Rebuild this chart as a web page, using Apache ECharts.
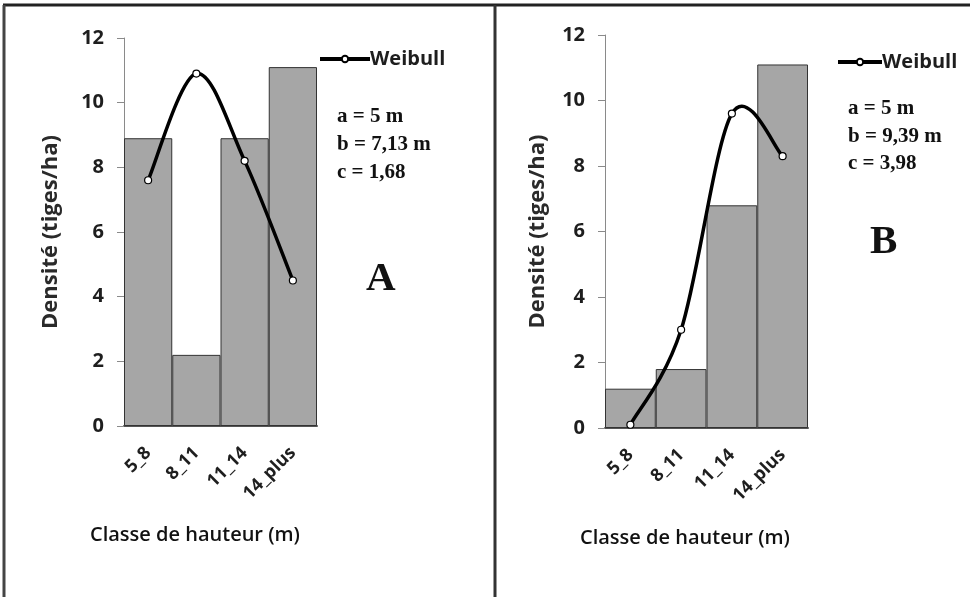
<!DOCTYPE html>
<html>
<head>
<meta charset="utf-8">
<script src="https://cdn.jsdelivr.net/npm/echarts@6/dist/echarts.min.js"></script>
<style>
  html, body { margin: 0; padding: 0; background: #fff; }
  #chart { width: 970px; height: 597px; }
</style>
</head>
<body>
<div id="chart"></div>
<script>
var classes = ['5_8', '8_11', '11_14', '14_plus'];
// panneau A
var densiteA = [8.9, 2.2, 8.9, 11.1];
var weibullA = [7.6, 10.9, 8.2, 4.5];
// panneau B
var densiteB = [1.2, 1.8, 6.8, 11.1];
var weibullB = [0.1, 3.0, 9.6, 8.3];
var yTicks = [0, 2, 4, 6, 8, 10, 12];

var sans = 'Open Sans';
var serif = 'Liberation Serif';

function yAxe(idx, gap) {
    return {
        type: 'value',
        gridIndex: idx,
        min: yTicks[0],
        max: yTicks[yTicks.length - 1],
        interval: 2,
        name: 'Densité (tiges/ha)',
        nameLocation: 'middle',
        nameRotate: 90,
        nameGap: gap,
        nameTextStyle: { fontFamily: sans, fontSize: 22, fontWeight: 'bold', color: '#2a2a2a' },
        axisLine: { show: true, lineStyle: { color: '#8a8a8a', width: 1 } },
        axisTick: { show: true, length: 7, lineStyle: { color: '#8a8a8a' } },
        splitLine: { show: false },
        axisLabel: { margin: 20, fontFamily: sans, fontSize: 20, fontWeight: 'bold', color: '#1e1e1e' }
    };
}

function xAxe(idx) {
    return {
        type: 'category',
        gridIndex: idx,
        data: classes,
        axisLine: { show: true, lineStyle: { color: '#555', width: 2 } },
        axisTick: { show: false },
        axisLabel: { rotate: 45, margin: 24, fontFamily: sans, fontSize: 18, fontWeight: 'bold', color: '#1e1e1e' }
    };
}

function barres(idx, data) {
    return {
        type: 'bar',
        name: 'densite',
        xAxisIndex: idx,
        yAxisIndex: idx,
        data: data,
        barCategoryGap: '0%',
        itemStyle: { color: '#a6a6a6', borderColor: '#333', borderWidth: 1 },
        silent: true
    };
}

// points de la loi de Weibull (marqueurs + légende)
function points(idx, data) {
    return {
        type: 'line',
        name: 'Weibull',
        xAxisIndex: idx,
        yAxisIndex: idx,
        data: data,
        symbol: 'circle',
        symbolSize: 7,
        z: 6,
        lineStyle: { color: '#000', width: 3.5, opacity: 0 },
        itemStyle: { color: '#fff', borderColor: '#000', borderWidth: 1.2 }
    };
}

// courbe lissée façon Excel (Catmull-Rom) passant par les points
function courbe(idx, data) {
    return {
        type: 'custom',
        name: 'courbe' + idx,
        xAxisIndex: idx,
        yAxisIndex: idx,
        data: data.map(function (v, i) { return [i, v]; }),
        z: 5,
        silent: true,
        renderItem: function (params, api) {
            var i = params.dataIndexInside;
            var n = data.length;
            if (i >= n - 1) return;
            var pt = function (k) {
                k = Math.max(0, Math.min(n - 1, k));
                return api.coord([k, data[k]]);
            };
            var p0 = pt(i - 1), p1 = pt(i), p2 = pt(i + 1), p3 = pt(i + 2);
            return {
                type: 'bezierCurve',
                shape: {
                    x1: p1[0], y1: p1[1],
                    x2: p2[0], y2: p2[1],
                    cpx1: p1[0] + (p2[0] - p0[0]) / 6,
                    cpy1: p1[1] + (p2[1] - p0[1]) / 6,
                    cpx2: p2[0] - (p3[0] - p1[0]) / 6,
                    cpy2: p2[1] - (p3[1] - p1[1]) / 6
                },
                style: { stroke: '#000', lineWidth: 3.5, fill: null }
            };
        }
    };
}

function legende(left, top, w) {
    return {
        data: ['Weibull'],
        left: left,
        top: top,
        padding: 0,
        itemWidth: w,
        itemHeight: 8,
        lineStyle: { width: 4, color: '#000', opacity: 1 },
        textStyle: { fontFamily: sans, fontSize: 20, fontWeight: 'bold', color: '#1e1e1e', padding: [0, 0, 0, -5] }
    };
}

function texte(left, top, str, font, size, lh, weight) {
    return {
        type: 'text',
        left: left,
        top: top,
        style: { text: str, font: (weight || 'bold') + ' ' + size + 'px "' + font + '"', fill: '#111', lineHeight: lh }
    };
}

var chart = echarts.init(document.getElementById('chart'));
var option = {
    backgroundColor: '#fff',
    animation: false,
    grid: [
        { left: 124, top: 38, width: 193, height: 388 },
        { left: 605, top: 35, width: 203, height: 393 }
    ],
    xAxis: [xAxe(0), xAxe(1)],
    yAxis: [yAxe(0, 62), yAxe(1, 56)],
    legend: [legende(318, 49, 50), legende(836, 52, 44)],
    series: [
        barres(0, densiteA),
        courbe(0, weibullA),
        points(0, weibullA),
        barres(1, densiteB),
        courbe(1, weibullB),
        points(1, weibullB)
    ],
    graphic: [
        // cadres
        { type: 'line', shape: { x1: 3, y1: 5, x2: 970, y2: 5 }, style: { stroke: '#222', lineWidth: 3 } },
        { type: 'line', shape: { x1: 4, y1: 5, x2: 4, y2: 597 }, style: { stroke: '#444', lineWidth: 3 } },
        { type: 'line', shape: { x1: 495, y1: 5, x2: 495, y2: 597 }, style: { stroke: '#333', lineWidth: 3 } },
        // paramètres
        texte(337, 103, 'a = 5 m\nb = 7,13 m\nc = 1,68', serif, 21, 28),
        texte(848, 95, 'a = 5 m\nb = 9,39 m\nc = 3,98', serif, 21, 27.5),
        texte(366, 259, 'A', serif, 41, 41),
        texte(870, 222, 'B', serif, 41, 41),
        // titres des abscisses
        texte(90, 522, 'Classe de hauteur (m)', sans, 20, 26, '600'),
        texte(580, 525, 'Classe de hauteur (m)', sans, 20, 26, '600')
    ]
};
chart.setOption(option);
</script>
</body>
</html>
